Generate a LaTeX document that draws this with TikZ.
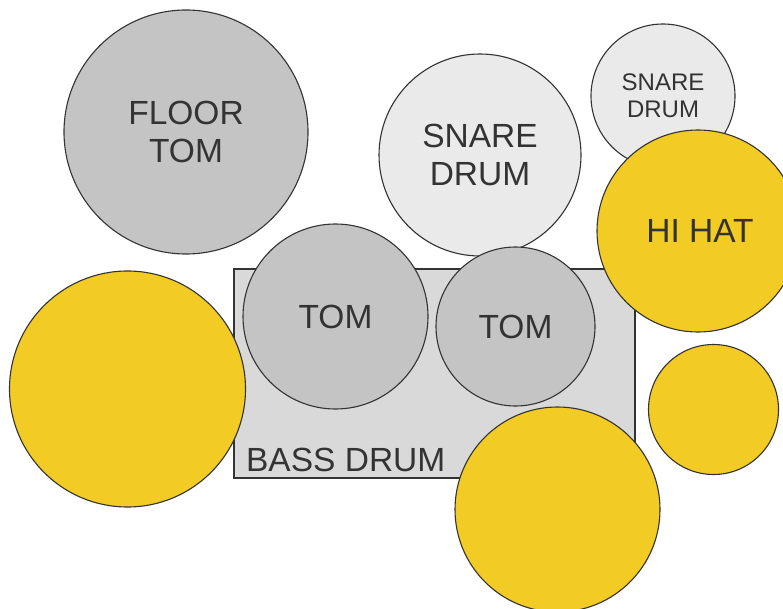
\documentclass[tikz,border=0pt]{standalone}
\usepackage{fontspec}
\setmainfont{Liberation Sans}
\usetikzlibrary{positioning}

\definecolor{tomgray}{HTML}{C4C4C4}
\definecolor{snaregray}{HTML}{EAEAEA}
\definecolor{bassgray}{HTML}{D9D9D9}
\definecolor{cymbal}{HTML}{F2CB25}
\definecolor{rim}{HTML}{333333}

\begin{document}
\begin{tikzpicture}[
        x=1pt, y=-1pt,
        drum/.style={circle, draw=rim, line width=1.1pt, inner sep=0pt,
                     align=center, text=rim,
                     font=\fontsize{33.5}{37.5}\selectfont},
        tom/.style={drum, fill=tomgray},
        snare/.style={drum, fill=snaregray},
        cymbal/.style={drum, fill=cymbal},
        kick/.style={rectangle, draw=rim, line width=1.1pt, fill=bassgray,
                     inner sep=0pt}
    ]
        \useasboundingbox (0,0) rectangle (783,609);
        \fill[white] (0,0) rectangle (783,609);
        \clip (0,0) rectangle (783,609);

        \node[tom, minimum size=244pt] (floor-tom) at (186,132) {FLOOR\\TOM};
        \node[snare, minimum size=202pt] (snare-main) at (480,155) {SNARE\\DRUM};
        \node[snare, minimum size=144pt, font=\fontsize{24}{27}\selectfont]
            (snare-small) at (663,96) {SNARE\\DRUM};

        \node[kick, minimum width=401pt, minimum height=209pt]
            (bass-drum) at (434.5,373.5) {};
        \node[text=rim, font=\fontsize{33.5}{37.5}\selectfont, inner sep=0pt,
              anchor=base west] (bass-label)
            at ([xshift=12.5pt, yshift=7pt]bass-drum.south west) {BASS DRUM};

        \node[tom, minimum size=185pt] (tom-left) at (335.5,316.5) {TOM};
        \node[tom, minimum size=159pt] (tom-right) at (515.5,326.5) {TOM};

        \node[cymbal, minimum size=236pt] (crash-left) at (127.5,389) {};
        \node[cymbal, minimum size=202pt] (hi-hat) at (698,231) {\hspace*{4pt}HI HAT};
        \node[cymbal, minimum size=130pt] (splash) at (713.5,409.5) {};
        \node[cymbal, minimum size=205pt] (ride) at (557.5,509.5) {};
    \end{tikzpicture}
\end{document}
